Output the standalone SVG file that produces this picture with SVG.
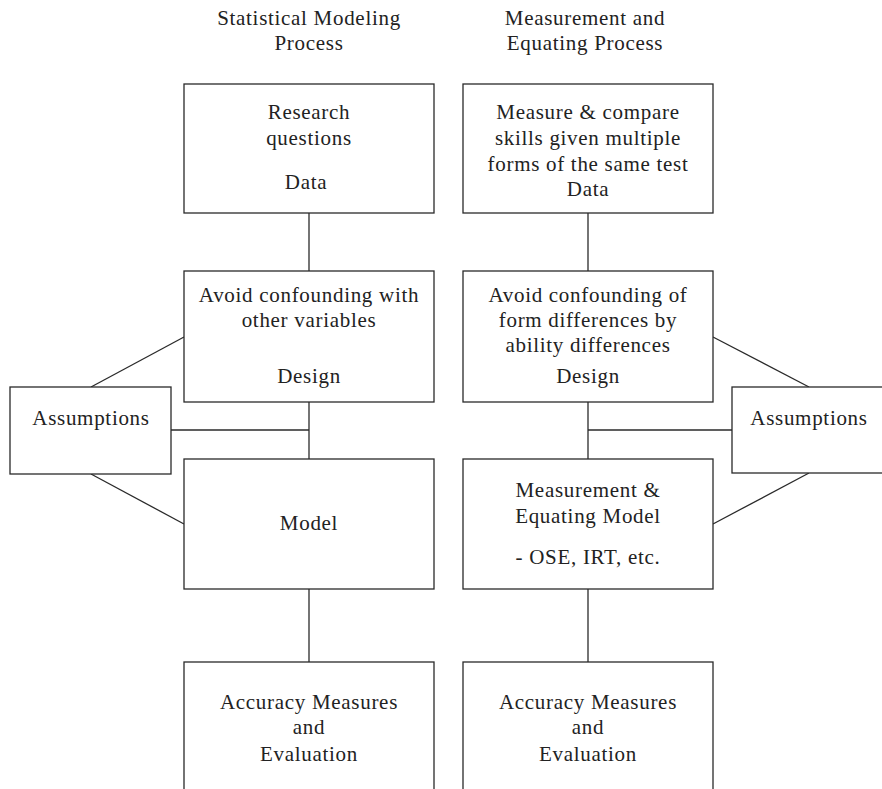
<svg xmlns="http://www.w3.org/2000/svg" width="882" height="789" viewBox="0 0 882 789">
<style>
.box{fill:#fff;stroke:#2a2a2a;stroke-width:1.3}
.ln{stroke:#2a2a2a;stroke-width:1.3;fill:none}
text{font-family:"Liberation Serif","Times New Roman",serif;font-size:21px;fill:#222;text-anchor:middle;letter-spacing:0.7px}
</style>
<rect width="882" height="789" fill="#fff"/>
<g id="connectors">
<line class="ln" x1="309" y1="213" x2="309" y2="271"/>
<line class="ln" x1="309" y1="402" x2="309" y2="459"/>
<line class="ln" x1="171" y1="430" x2="309" y2="430"/>
<line class="ln" x1="309" y1="589" x2="309" y2="662"/>
<line class="ln" x1="91" y1="387" x2="184" y2="337"/>
<line class="ln" x1="91" y1="474" x2="184" y2="524"/>
<line class="ln" x1="588" y1="213" x2="588" y2="271"/>
<line class="ln" x1="588" y1="402" x2="588" y2="459"/>
<line class="ln" x1="588" y1="430" x2="732" y2="430"/>
<line class="ln" x1="588" y1="589" x2="588" y2="662"/>
<line class="ln" x1="809" y1="387" x2="713" y2="337"/>
<line class="ln" x1="809" y1="473" x2="713" y2="524"/>
</g>
<g id="title-left">
<text x="309" y="25">Statistical Modeling</text>
<text x="309" y="50">Process</text>
</g>
<g id="title-right">
<text x="585" y="25">Measurement and</text>
<text x="585" y="50">Equating Process</text>
</g>
<g id="left-data">
<rect class="box" x="184" y="84" width="250" height="129"/>
<text x="309" y="119">Research</text>
<text x="309" y="145">questions</text>
<text x="306" y="189">Data</text>
</g>
<g id="left-design">
<rect class="box" x="184" y="271" width="250" height="131"/>
<text x="309" y="302">Avoid confounding with</text>
<text x="309" y="327">other variables</text>
<text x="309" y="383">Design</text>
</g>
<g id="left-assumptions">
<rect class="box" x="10" y="387" width="161" height="87"/>
<text x="91" y="425">Assumptions</text>
</g>
<g id="left-model">
<rect class="box" x="184" y="459" width="250" height="130"/>
<text x="309" y="530">Model</text>
</g>
<g id="left-accuracy">
<rect class="box" x="184" y="662" width="250" height="160"/>
<text x="309" y="709">Accuracy Measures</text>
<text x="309" y="734">and</text>
<text x="309" y="761">Evaluation</text>
</g>
<g id="right-data">
<rect class="box" x="463" y="84" width="250" height="129"/>
<text x="588" y="119">Measure &amp; compare</text>
<text x="588" y="145">skills given multiple</text>
<text x="588" y="171">forms of the same test</text>
<text x="588" y="196">Data</text>
</g>
<g id="right-design">
<rect class="box" x="463" y="271" width="250" height="131"/>
<text x="588" y="302">Avoid confounding of</text>
<text x="588" y="327">form differences by</text>
<text x="588" y="352">ability differences</text>
<text x="588" y="383">Design</text>
</g>
<g id="right-assumptions">
<rect class="box" x="732" y="387" width="170" height="86"/>
<text x="809" y="425">Assumptions</text>
</g>
<g id="right-model">
<rect class="box" x="463" y="459" width="250" height="130"/>
<text x="588" y="497">Measurement &amp;</text>
<text x="588" y="523">Equating Model</text>
<text x="588" y="564">- OSE, IRT, etc.</text>
</g>
<g id="right-accuracy">
<rect class="box" x="463" y="662" width="250" height="160"/>
<text x="588" y="709">Accuracy Measures</text>
<text x="588" y="734">and</text>
<text x="588" y="761">Evaluation</text>
</g>
</svg>
